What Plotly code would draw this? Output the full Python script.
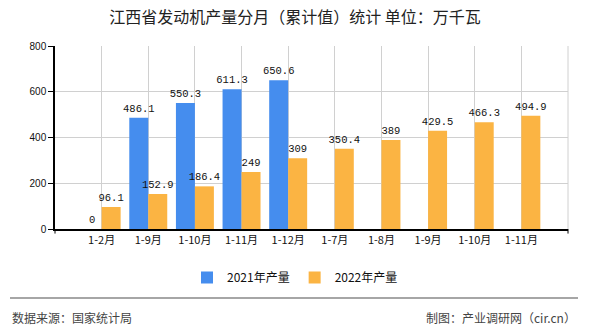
import plotly.graph_objects as go

categories = ["1-2月", "1-9月", "1-10月", "1-11月", "1-12月", "1-7月", "1-8月", "1-9月", "1-10月", "1-11月"]
values_2021 = [0, 486.1, 550.3, 611.3, 650.6, None, None, None, None, None]
values_2022 = [96.1, 152.9, 186.4, 249, 309, 350.4, 389, 429.5, 466.3, 494.9]
series_names = ["2021年产量", "2022年产量"]
yticks = [0, 200, 400, 600, 800]

title = "江西省发动机产量分月（累计值）统计 单位：万千瓦"
source_text = "数据来源：国家统计局"
credit_text = "制图：产业调研网（cir.cn）"

colors = ["#458DEE", "#FBB443"]
idx = list(range(len(categories)))


def fmt(v):
    if v is None:
        return ""
    return ("%g" % v)


fig = go.Figure()
for name, vals, col in zip(series_names, [values_2021, values_2022], colors):
    fig.add_trace(go.Bar(
        x=idx, y=vals, name=name, marker=dict(color=col, line=dict(width=0)),
        text=[fmt(v) for v in vals], textposition="outside", cliponaxis=False,
        constraintext="none",
        textfont=dict(family="Liberation Mono, DejaVu Sans Mono, monospace", size=10.5, color="#111"),
        hoverinfo="skip",
    ))

fig.update_layout(
    width=590, height=330,
    margin=dict(l=55, r=22, t=46, b=101, autoexpand=False),
    paper_bgcolor="white", plot_bgcolor="white",
    barmode="group", bargap=0.186, bargroupgap=0,
    font=dict(family="Noto Sans CJK SC, sans-serif", size=11, color="#222"),
    title=dict(text=title, x=0.5, xanchor="center", y=0.948, yanchor="middle",
               font=dict(family="Noto Sans CJK SC, sans-serif", size=16, color="#222")),
    showlegend=True,
    legend=dict(orientation="h", x=(295 - 55) / 513, xanchor="center", y=-0.265, yanchor="middle",
                font=dict(family="Noto Sans CJK SC, sans-serif", size=12, color="#111"),
                itemwidth=30, traceorder="normal"),
)

fig.update_xaxes(
    range=[-1, len(categories)], tickmode="array", tickvals=idx, ticktext=categories,
    showgrid=True, gridcolor="#D0D0D0", gridwidth=1,
    showline=True, linecolor="#000", linewidth=1.5,
    ticks="", tickfont=dict(family="Noto Sans CJK SC, sans-serif", size=11, color="#111"),
    tickangle=0, zeroline=False, fixedrange=True,
)
fig.update_yaxes(
    range=[0, 800], tickmode="array", tickvals=yticks,
    showgrid=True, gridcolor="#D0D0D0", gridwidth=1,
    showline=True, linecolor="#000", linewidth=1.5,
    ticks="outside", ticklen=5, tickcolor="#000",
    tickfont=dict(family="Liberation Sans, Arial, sans-serif", size=10, color="#111"),
    zeroline=False, fixedrange=True,
)

# right border
fig.add_shape(type="line", xref="paper", yref="paper", x0=1, x1=1, y0=0, y1=1,
              line=dict(color="#D0D0D0", width=1))
# end ticks on x axis
for xp in [0, 1]:
    fig.add_shape(type="line", xref="paper", yref="paper", x0=xp, x1=xp, y0=0, y1=-0.025,
                  line=dict(color="#000", width=1))

# footer separator line
fig.add_shape(type="line", xref="paper", yref="paper",
              x0=-45 / 513, x1=(578 - 55) / 513, y0=-69 / 183, y1=-69 / 183,
              line=dict(color="#888", width=1.5))

fig.add_annotation(text=source_text, xref="paper", yref="paper",
                   x=-45 / 513, y=-88 / 183, xanchor="left", yanchor="middle",
                   showarrow=False, font=dict(size=12, color="#444"))
fig.add_annotation(text=credit_text, xref="paper", yref="paper",
                   x=(578 - 55) / 513, y=-88 / 183, xanchor="right", yanchor="middle",
                   showarrow=False, font=dict(size=12, color="#444"))

fig.write_html("out.html")
